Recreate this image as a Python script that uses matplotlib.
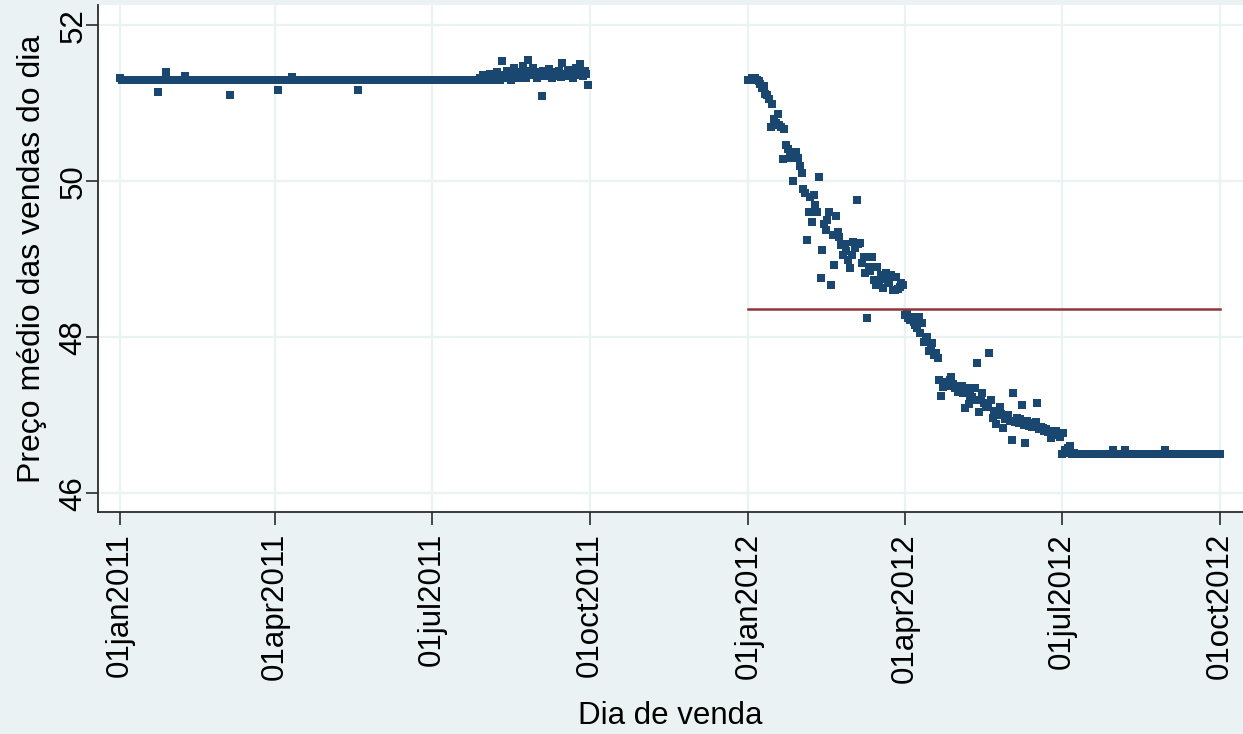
import numpy as np
import pandas as pd
import matplotlib
matplotlib.use("Agg")
import matplotlib.pyplot as plt
import matplotlib.dates as mdates
from matplotlib.ticker import FuncFormatter

plt.rcParams['font.family'] = ['Liberation Sans', 'DejaVu Sans']

# Preço médio diário, 2011 (01jan2011 a 30sep2011)
inicio_2011 = "2011-01-01"
preco_2011 = [
    51.32, 51.3, 51.3, 51.3, 51.3, 51.3, 51.3, 51.3, 51.3, 51.3, 51.3, 51.3, 51.3, 51.3,
    51.3, 51.3, 51.3, 51.3, 51.3, 51.3, 51.3, 51.3, 51.15, 51.3, 51.3, 51.3, 51.3, 51.4,
    51.3, 51.3, 51.3, 51.3, 51.3, 51.3, 51.3, 51.3, 51.3, 51.3, 51.35, 51.3, 51.3, 51.3,
    51.3, 51.3, 51.3, 51.3, 51.3, 51.3, 51.3, 51.3, 51.3, 51.3, 51.3, 51.3, 51.3, 51.3,
    51.3, 51.3, 51.3, 51.3, 51.3, 51.3, 51.3, 51.3, 51.1, 51.3, 51.3, 51.3, 51.3, 51.3,
    51.3, 51.3, 51.3, 51.3, 51.3, 51.3, 51.3, 51.3, 51.3, 51.3, 51.3, 51.3, 51.3, 51.3,
    51.3, 51.3, 51.3, 51.3, 51.3, 51.3, 51.3, 51.3, 51.17, 51.3, 51.3, 51.3, 51.3, 51.3,
    51.3, 51.3, 51.34, 51.3, 51.3, 51.3, 51.3, 51.3, 51.3, 51.3, 51.3, 51.3, 51.3, 51.3,
    51.3, 51.3, 51.3, 51.3, 51.3, 51.3, 51.3, 51.3, 51.3, 51.3, 51.3, 51.3, 51.3, 51.3,
    51.3, 51.3, 51.3, 51.3, 51.3, 51.3, 51.3, 51.3, 51.3, 51.3, 51.3, 51.3, 51.17, 51.3,
    51.3, 51.3, 51.3, 51.3, 51.3, 51.3, 51.3, 51.3, 51.3, 51.3, 51.3, 51.3, 51.3, 51.3,
    51.3, 51.3, 51.3, 51.3, 51.3, 51.3, 51.3, 51.3, 51.3, 51.3, 51.3, 51.3, 51.3, 51.3,
    51.3, 51.3, 51.3, 51.3, 51.3, 51.3, 51.3, 51.3, 51.3, 51.3, 51.3, 51.3, 51.3, 51.3,
    51.3, 51.3, 51.3, 51.3, 51.3, 51.3, 51.3, 51.3, 51.3, 51.3, 51.3, 51.3, 51.3, 51.3,
    51.3, 51.3, 51.3, 51.3, 51.3, 51.3, 51.3, 51.3, 51.3, 51.3, 51.3, 51.3, 51.3, 51.33,
    51.3, 51.36, 51.3, 51.35, 51.32, 51.38, 51.3, 51.34, 51.3, 51.4, 51.33, 51.3, 51.54, 51.36,
    51.32, 51.42, 51.35, 51.3, 51.38, 51.45, 51.37, 51.33, 51.4, 51.35, 51.48, 51.38, 51.32, 51.56,
    51.42, 51.36, 51.45, 51.38, 51.33, 51.4, 51.36, 51.09, 51.42, 51.35, 51.38, 51.44, 51.36, 51.32,
    51.4, 51.35, 51.38, 51.42, 51.34, 51.51, 51.38, 51.35, 51.43, 51.36, 51.4, 51.33, 51.38, 51.45,
    51.36, 51.5, 51.4, 51.35, 51.42, 51.38, 51.23,
]

# Preço médio diário, 2012 (01jan2012 a 01oct2012)
inicio_2012 = "2012-01-01"
preco_2012 = [
    51.3, 51.3, 51.32, 51.3, 51.33, 51.3, 51.28, 51.25, 51.2, 51.22, 51.12, 51.1, 51.05, 50.7,
    50.99, 50.8, 50.75, 50.86, 50.72, 50.7, 50.28, 50.67, 50.47, 50.41, 50.35, 50.3, 50.0, 50.33,
    50.37, 50.3, 50.2, 50.11, 49.9, 49.85, 49.25, 49.61, 49.8, 49.48, 49.83, 49.7, 49.6, 50.06,
    48.76, 49.12, 49.45, 49.38, 49.5, 49.61, 48.67, 49.31, 48.93, 49.55, 49.35, 49.29, 49.18, 49.06,
    49.2, 49.1, 48.99, 48.89, 49.05, 49.22, 49.15, 49.76, 49.2, 49.21, 48.95, 49.03, 48.82, 48.25,
    48.9, 48.85, 49.03, 48.73, 48.67, 48.9, 48.71, 48.8, 48.63, 48.75, 48.82, 48.7, 48.69, 48.8,
    48.61, 48.61, 48.77, 48.62, 48.65, 48.69, 48.67, 48.28, 48.3, 48.25, 48.22, 48.26, 48.2, 48.16,
    48.12, 48.26, 48.05, 48.18, 47.94, 47.97, 48.0, 47.83, 47.88, 47.92, 47.77, 47.8, 47.73, 47.45,
    47.25, 47.36, 47.42, 47.4, 47.38, 47.45, 47.49, 47.4, 47.35, 47.38, 47.3, 47.33, 47.38, 47.28,
    47.09, 47.35, 47.15, 47.25, 47.23, 47.2, 47.35, 47.67, 47.04, 47.2, 47.29, 47.16, 47.1, 47.12,
    47.8, 47.19, 46.97, 47.05, 46.89, 47.0, 47.1, 47.02, 46.84, 46.95, 46.97, 47.0, 46.93, 46.68,
    47.28, 46.91, 46.97, 46.9, 46.95, 47.13, 46.88, 46.65, 46.93, 46.86, 46.9, 46.85, 46.88, 46.91,
    47.16, 46.82, 46.85, 46.84, 46.8, 46.83, 46.78, 46.8, 46.71, 46.78, 46.75, 46.8, 46.76, 46.72,
    46.5, 46.77, 46.55, 46.52, 46.58, 46.61, 46.5, 46.52, 46.5, 46.5, 46.5, 46.5, 46.5, 46.5,
    46.5, 46.5, 46.5, 46.5, 46.5, 46.5, 46.5, 46.5, 46.5, 46.5, 46.5, 46.5, 46.5, 46.5,
    46.5, 46.5, 46.56, 46.5, 46.5, 46.5, 46.5, 46.5, 46.5, 46.56, 46.5, 46.5, 46.5, 46.5,
    46.5, 46.5, 46.5, 46.5, 46.5, 46.5, 46.5, 46.5, 46.5, 46.5, 46.5, 46.5, 46.5, 46.5,
    46.5, 46.5, 46.5, 46.5, 46.56, 46.5, 46.5, 46.5, 46.5, 46.5, 46.5, 46.5, 46.5, 46.5,
    46.5, 46.5, 46.5, 46.5, 46.5, 46.5, 46.5, 46.5, 46.5, 46.5, 46.5, 46.5, 46.5, 46.5,
    46.5, 46.5, 46.5, 46.5, 46.5, 46.5, 46.5, 46.5, 46.5,
]

# Linha de referência em 2012
linha_ref = 48.36
linha_datas = ["2012-01-01", "2012-10-01"]

datas_ticks = ["2011-01-01", "2011-04-01", "2011-07-01", "2011-10-01",
               "2012-01-01", "2012-04-01", "2012-07-01", "2012-10-01"]
y_ticks = [46, 48, 50, 52]

fundo = "#EAF2F3"
azul = "#1A476F"
vinho = "#90353B"

dias_2011 = pd.date_range(inicio_2011, periods=len(preco_2011), freq="D")
dias_2012 = pd.date_range(inicio_2012, periods=len(preco_2012), freq="D")

fig = plt.figure(figsize=(12.43, 7.34), dpi=100, facecolor=fundo)
ax = fig.add_axes([0.0788, 0.3025, 0.9212, 0.6907])
ax.set_facecolor("white")

ax.plot(dias_2011, preco_2011, ls="none", marker="s", ms=6.2, mew=0, color=azul, zorder=3)
ax.plot(dias_2012, preco_2012, ls="none", marker="s", ms=6.2, mew=0, color=azul, zorder=3)
ax.plot(pd.to_datetime(linha_datas), [linha_ref, linha_ref], color=vinho, lw=1.8, zorder=4)

ax.set_xlim(pd.Timestamp("2010-12-19 05:00"), pd.Timestamp("2012-10-14 10:00"))
ax.set_ylim(45.76, 52.26)

ax.set_xticks(pd.to_datetime(datas_ticks))
ax.xaxis.set_major_formatter(FuncFormatter(
    lambda v, pos: (lambda d: f"{d.day:02d}{d.strftime('%b').lower()}{d.year}")(mdates.num2date(v))))
ax.set_yticks(y_ticks)

ax.grid(True, color=fundo, lw=1.6)
ax.set_axisbelow(True)

for lado in ["top", "right"]:
    ax.spines[lado].set_visible(False)
for lado in ["left", "bottom"]:
    ax.spines[lado].set_color("#2b2b2b")
    ax.spines[lado].set_linewidth(1.3)

ax.tick_params(axis="both", length=9, width=1.2, color="#2b2b2b", labelsize=22.5)
ax.tick_params(axis="x", labelrotation=90, pad=6)
ax.tick_params(axis="y", labelrotation=90, pad=-2)
for t in ax.get_yticklabels():
    t.set_va("center")

ax.set_xlabel("Dia de venda", fontsize=22.5, labelpad=13)
ax.set_ylabel("Preço médio das vendas do dia", fontsize=23)
ax.yaxis.set_label_coords(-0.0445, 0.5)

fig.savefig("out.png", dpi=100, facecolor=fundo)
